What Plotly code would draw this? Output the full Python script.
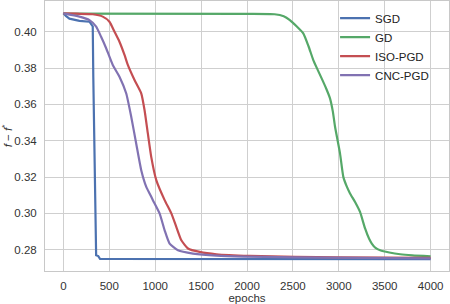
import plotly.graph_objects as go

# ---- data ----
sgd_x = [0, 30, 66, 175, 284, 302, 320, 326, 332, 338, 344, 350, 357, 380, 400, 4000]
sgd_y = [0.4101, 0.4085, 0.4072, 0.4060, 0.4055, 0.4041, 0.4030, 0.375, 0.350, 0.330, 0.305, 0.288, 0.2770, 0.2765, 0.2749, 0.2748]

gd_x = [0, 2000, 2300, 2400, 2467, 2540, 2613, 2670, 2722, 2770, 2813, 2860, 2904, 2935, 2959,
        3013, 3049, 3085, 3122, 3180, 3231, 3286, 3330, 3359, 3400, 3450, 3550, 3668, 3800, 4000]
gd_y = [0.4099, 0.4098, 0.4096, 0.4085, 0.4064, 0.4030, 0.3991, 0.3920, 0.3844, 0.3790, 0.3743,
        0.3690, 0.3633, 0.3560, 0.3477, 0.3330, 0.3201, 0.3150, 0.3110, 0.3060, 0.3008, 0.2917,
        0.2860, 0.2834, 0.2810, 0.2797, 0.2785, 0.2775, 0.2769, 0.2764]

iso_x = [0, 150, 320, 429, 502, 557, 611, 666, 702, 775, 848, 884, 920, 957, 1012, 1103,
         1176, 1230, 1285, 1357, 1485, 1667, 2031, 3000, 4000]
iso_y = [0.4101, 0.4099, 0.4096, 0.4083, 0.4055, 0.4000, 0.3945, 0.3872, 0.3817, 0.3734, 0.3661,
         0.3569, 0.3440, 0.3311, 0.3183, 0.3073, 0.3000, 0.2926, 0.2852, 0.2807, 0.2788, 0.2775,
         0.2766, 0.2758, 0.2755]

cnc_x = [0, 175, 284, 357, 411, 466, 538, 611, 684, 739, 793, 848, 903, 939, 975, 1048, 1103,
         1157, 1248, 1412, 1667, 2500, 4000]
cnc_y = [0.4101, 0.4083, 0.4064, 0.4028, 0.3972, 0.3909, 0.3817, 0.3752, 0.3661, 0.3532, 0.3385,
         0.3238, 0.3146, 0.3110, 0.3073, 0.3000, 0.2907, 0.2834, 0.2797, 0.2779, 0.2768, 0.2758,
         0.2752]

names = ["SGD", "GD", "ISO-PGD", "CNC-PGD"]
colors = ["#4C72B0", "#55A868", "#C44E52", "#8172B2"]
xs = [sgd_x, gd_x, iso_x, cnc_x]
ys = [sgd_y, gd_y, iso_y, cnc_y]

x_ticks = [0, 500, 1000, 1500, 2000, 2500, 3000, 3500, 4000]
y_ticks = [0.28, 0.30, 0.32, 0.34, 0.36, 0.38, 0.40]

FONT = "Liberation Sans, Arial, sans-serif"

fig = go.Figure()
for i, (n, c, x, y) in enumerate(zip(names, colors, xs, ys)):
    line = dict(color=c, width=2.2)
    if i > 0:
        line.update(shape="spline", smoothing=0.5)
    fig.add_trace(go.Scatter(x=x, y=y, mode="lines", name=n, line=line))

axis_common = dict(showgrid=True, gridcolor="#cfcfcf", gridwidth=1,
                   showline=True, linecolor="#c8c8c8", linewidth=1, mirror=True,
                   zeroline=False, ticks="", automargin=False,
                   tickfont=dict(family=FONT, size=11.5, color="#333333"))

fig.update_layout(
    width=450, height=304,
    margin=dict(l=45, r=1, t=1, b=33, autoexpand=False),
    paper_bgcolor="white", plot_bgcolor="white",
    font=dict(family=FONT, size=11.5, color="#333333"),
    showlegend=True,
    legend=dict(x=0.718, y=0.99, xanchor="left", yanchor="top",
                bgcolor="rgba(0,0,0,0)", borderwidth=0,
                font=dict(family=FONT, size=11.5, color="#222222"),
                tracegroupgap=0, itemwidth=30),
    xaxis=dict(range=[-200, 4200], tickvals=x_ticks,
               ticktext=[str(v) for v in x_ticks],
               title=dict(text="epochs", standoff=2,
                          font=dict(family=FONT, size=11.5, color="#333333")),
               ticklabelstandoff=4, **axis_common),
    yaxis=dict(range=[0.2683, 0.4169], tickvals=y_ticks,
               ticktext=[f"{v:.2f}" for v in y_ticks],
               title=dict(text="<i>f</i> − <i>f</i><sup>*</sup>", standoff=6,
                          font=dict(family=FONT, size=11.5, color="#333333")),
               ticklabelstandoff=5, **axis_common),
)

fig.write_html("out.html", config={"displayModeBar": False},
               post_script="document.body.style.margin='0px';document.body.style.padding='0px';")
